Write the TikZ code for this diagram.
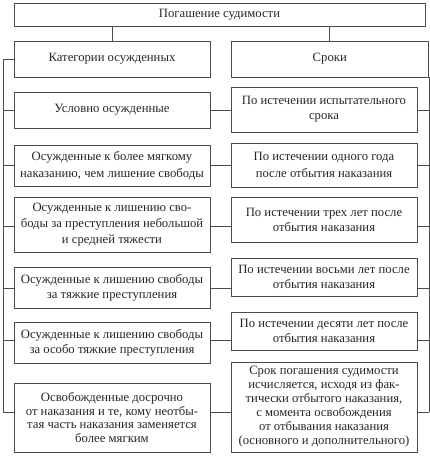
\documentclass[tikz,border=0pt]{standalone}
\usepackage{fontspec}
\setmainfont{Liberation Serif}
\usetikzlibrary{positioning}
\definecolor{linegray}{gray}{0.3}
\definecolor{textgray}{gray}{0.15}

\begin{document}
\begin{tikzpicture}[x=1pt,y=-1pt,
    box/.style={draw=linegray, line width=0.8pt, inner sep=0pt, align=center,
      text=textgray, font=\fontsize{12.7}{15}\selectfont},
    lbox/.style={box, minimum width=196pt},
    rbox/.style={box, minimum width=186pt},
    link/.style={draw=linegray, line width=0.8pt}]
  \useasboundingbox (0,0) rectangle (430,456);

  % Header boxes
  \node[box, minimum width=411pt, minimum height=23pt] (top) at (219.5,14.5) {Погашение судимости};
  \node[lbox, minimum height=36pt] (kat) at (112,59) {Категории осужденных};
  \node[box, minimum width=197.5pt, minimum height=36pt] (srok) at (329.75,59) {Сроки};

  % Rows: categories on the left, terms on the right
  \node[lbox, minimum height=36pt] (L1) at (112,110) {Условно осужденные};
  \node[rbox, minimum height=45pt] (R1) at (324,109.5) {По истечении испытательного\\срока};

  \node[lbox, minimum height=41pt, font=\fontsize{12.7}{17}\selectfont] (L2) at (112,165.5) {Осужденные к более мягкому\\наказанию, чем лишение свободы};
  \node[rbox, minimum height=44pt, font=\fontsize{12.7}{17}\selectfont] (R2) at (324,165) {По истечении одного года\\после отбытия наказания};

  \node[lbox, minimum height=55pt, font=\fontsize{12.7}{16}\selectfont] (L3) at (112,224.5) {Осужденные к лишению сво-\\боды за преступления небольшой\\и средней тяжести};
  \node[rbox, minimum height=45pt] (R3) at (324,219.5) {По истечении трех лет после\\отбытия наказания};

  \node[lbox, minimum height=41pt] (L4) at (112,287.5) {Осужденные к лишению свободы\\за тяжкие преступления};
  \node[rbox, minimum height=38pt] (R4) at (324,277) {По истечении восьми лет после\\отбытия наказания};

  \node[lbox, minimum height=41pt] (L5) at (112,342.5) {Осужденные к лишению свободы\\за особо тяжкие преступления};
  \node[rbox, minimum height=38pt] (R5) at (324,331) {По истечении десяти лет после\\отбытия наказания};

  \node[lbox, minimum height=69pt, font=\fontsize{12.7}{13.5}\selectfont] (L6) at (112,417.5) {Освобожденные досрочно\\от наказания и те, кому неотбы-\\тая часть наказания заменяется\\более мягким};
  \node[rbox, minimum height=90pt, font=\fontsize{12.7}{14}\selectfont] (R6) at (324,407) {Срок погашения судимости\\исчисляется, исходя из фак-\\тически отбытого наказания,\\с момента освобождения\\от отбывания наказания\\(основного и дополнительного)};

  % Bus lines and connector levels
  \coordinate (lbus) at (3,0);
  \coordinate (rbus) at (428.5,0);
  \coordinate (r1) at (0,110);
  \coordinate (r2) at (0,165);
  \coordinate (r3) at (0,226);
  \coordinate (r4) at (0,288);
  \coordinate (r5) at (0,340);
  \coordinate (r6) at (0,412);

  \draw[link] (top.south -| kat) -- (kat);
  \draw[link] (top.south -| srok) -- (srok);
  \draw[link] (kat.west) -- (kat.west -| lbus) -- (lbus |- r6);
  \draw[link] (srok.south east) -- (srok.south east |- r6);

  \foreach \i in {1,...,6} {
    \draw[link] (lbus |- r\i) -- (L\i.west |- r\i);
    \draw[link] (L\i.east |- r\i) -- (R\i.west |- r\i);
    \draw[link] (R\i.east |- r\i) -- (rbus |- r\i);
  }
\end{tikzpicture}
\end{document}
